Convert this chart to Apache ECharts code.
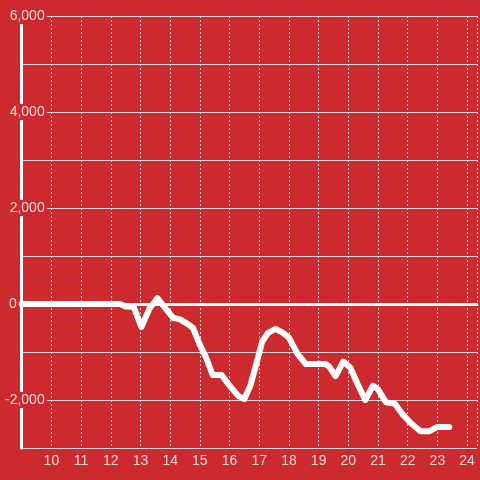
<!DOCTYPE html>
<html>
<head>
<meta charset="utf-8">
<script src="https://cdn.jsdelivr.net/npm/echarts@6/dist/echarts.min.js"></script>
<style>html,body{margin:0;padding:0;background:#cc2a2f;}#c{width:480px;height:480px;}</style>
</head>
<body>
<div id="c"></div>
<script>
var hours = [9.0, 12.3, 12.5, 12.77, 13.03, 13.3, 13.57, 13.83, 14.1, 14.33, 14.6, 14.77, 15.0, 15.2, 15.43, 15.73, 16.0, 16.3, 16.5, 16.7, 16.9, 17.1, 17.3, 17.55, 17.8, 18.0, 18.3, 18.57, 19.23, 19.35, 19.57, 19.83, 20.07, 20.3, 20.57, 20.83, 21.0, 21.27, 21.57, 21.83, 22.1, 22.43, 22.73, 23.0, 23.4];
var values = [0, 0, -50, -60, -480, -100, 120, -80, -290, -320, -420, -500, -850, -1100, -1480, -1480, -1700, -1920, -1980, -1700, -1250, -780, -600, -520, -600, -700, -1050, -1250, -1250, -1300, -1500, -1200, -1330, -1650, -2000, -1700, -1780, -2050, -2080, -2300, -2480, -2650, -2650, -2560, -2560];
var yTickLabels = {"6000": "6,000", "4000": "4,000", "2000": "2,000", "0": "0", "-2000": "-2,000"};

var bg = '#cc2a2f';
var txt = '#f3d8d9';
var data = hours.map(function (h, i) { return [h, values[i]]; });

var chart = echarts.init(document.getElementById('c'));
chart.setOption({
  backgroundColor: bg,
  animation: false,
  grid: { left: 20, right: 0, top: 16, bottom: 32, containLabel: false },
  xAxis: {
    type: 'value', min: 9, max: 24.3333, interval: 1,
    axisLine: { onZero: true, lineStyle: { color: '#ffffff', width: 3 } },
    axisTick: { show: false },
    splitLine: { show: true, lineStyle: { color: '#d6d6d6', type: [2, 2], width: 1 } },
    axisLabel: {
      color: txt, fontSize: 14, fontFamily: 'Liberation Sans', margin: 6,
      formatter: function (v) { return (Math.abs(v - Math.round(v)) < 1e-6 && v >= 10) ? String(Math.round(v)) : ''; }
    }
  },
  yAxis: {
    type: 'value', min: -3000, max: 6000, interval: 1000,
    axisLine: { show: true, lineStyle: { color: '#ffffff', width: 3 } },
    axisTick: { show: false },
    splitLine: { show: true, lineStyle: { color: '#d6d6d6', width: 1 } },
    axisLabel: {
      color: txt, fontSize: 14, fontFamily: 'Liberation Sans', margin: -25, align: 'right',
      formatter: function (v) {
        var t = yTickLabels[String(v)];
        if (!t) return '';
        if (v === 0) return '{b|' + t + '}{s|}';
        return '{b|' + t + '}';
      },
      rich: {
        b: { color: txt, fontSize: 14, fontFamily: 'Liberation Sans', backgroundColor: bg, padding: [1, 2, 1, 2] },
        s: { width: 28 }
      }
    }
  },
  series: [{
    type: 'line', data: data, showSymbol: false, smooth: false,
    lineStyle: { color: '#ffffff', width: 6, cap: 'round', join: 'round' },
    itemStyle: { color: '#ffffff' }
  }]
});
</script>
</body>
</html>
